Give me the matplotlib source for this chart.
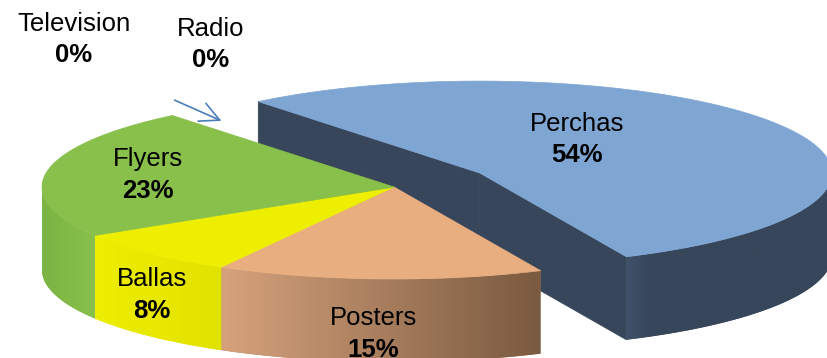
import numpy as np
import matplotlib
matplotlib.use("Agg")
import matplotlib.pyplot as plt
from matplotlib.patches import Polygon

# ---- data ----
categories = ["Perchas", "Posters", "Ballas", "Flyers", "Television", "Radio"]
values = [54, 15, 8, 23, 0, 0]
pct_labels = ["54%", "15%", "8%", "23%", "0%", "0%"]

# ---- styling / layout ----
top_colors = {"Perchas": "#7fa6d3", "Posters": "#e8ae80", "Ballas": "#eeee00",
              "Flyers": "#88c04b"}
wall_grad = {"Perchas": [(64, 83, 107), (55, 70, 90)],
             "Posters": [(214, 162, 124), (122, 90, 64)],
             "Ballas": [(238, 238, 0), (226, 226, 0)],
             "Flyers": [(124, 180, 68), (136, 192, 75)]}
radial_wall = "#37465a"
label_pos = {"Perchas": (577, 124, 155), "Posters": (373, 318, 350),
             "Ballas": (152, 279, 311), "Flyers": (148, 159, 191),
             "Television": (74, 24, 55), "Radio": (211, 29, 60)}

W, H = 827, 358
cx, cy = 394, 187
rx, ry = 352, 92
depth = 83
start = 321.0
explode = {"Perchas": 0.287}

plt.rcParams['font.family'] = ['Liberation Sans', 'DejaVu Sans']
fig = plt.figure(figsize=(W / 100, H / 100), dpi=100)
ax = fig.add_axes([0, 0, 1, 1])
ax.set_xlim(0, W)
ax.set_ylim(H, 0)
ax.axis("off")


def pt(c, th):
    t = np.radians(th)
    return c[0] + rx * np.sin(t), c[1] - ry * np.cos(t)


def draw_outer_wall(c, a0, a1, name, z):
    ths = np.linspace(a0, a1, 600)
    vis = [(t % 360 >= 90) and (t % 360 <= 270) for t in ths]
    ths = ths[vis]
    if len(ths) < 2:
        return
    top = [pt(c, t) for t in ths]
    bot = [(p[0], p[1] + depth) for p in top][::-1]
    poly_pts = top + bot
    xs = [p[0] for p in top]
    ys = [p[1] for p in poly_pts]
    xmin, xmax = min(xs), max(xs)
    ymin, ymax = min(ys), max(ys)
    c0 = np.array(wall_grad[name][0]) / 255
    c1 = np.array(wall_grad[name][1]) / 255
    n = 256
    f = np.linspace(0, 1, n)
    if name == "Perchas":
        # light near the left corner, quickly darkening to the right
        f = np.minimum(1.0, f / 0.12)
        img = (c0[None, :] + (c1 - c0)[None, :] * f[:, None])
    else:
        img = (c0[None, :] + (c1 - c0)[None, :] * f[:, None])
    img = img[None, :, :]
    poly = Polygon(poly_pts, closed=True, facecolor=tuple((c0 + c1) / 2),
                   edgecolor="none", zorder=z)
    ax.add_patch(poly)
    im = ax.imshow(img, extent=(xmin, xmax, ymax, ymin), aspect="auto",
                   interpolation="bilinear", zorder=z + 0.1)
    im.set_clip_path(poly)


def draw_radial_wall(c, th, z):
    e = pt(c, th)
    poly = [c, e, (e[0], e[1] + depth), (c[0], c[1] + depth)]
    ax.add_patch(Polygon(poly, closed=True, facecolor=radial_wall,
                         edgecolor=radial_wall, lw=0.6, zorder=z))


def draw_top(c, a0, a1, name, z):
    ths = np.linspace(a0, a1, 300)
    poly = [c] + [pt(c, t) for t in ths]
    ax.add_patch(Polygon(poly, closed=True, facecolor=top_colors[name],
                         edgecolor=top_colors[name], lw=0.5, zorder=z))


# angle spans
spans = []
acc = start
for name, v in zip(categories, values):
    spans.append((name, acc, acc + v * 3.6))
    acc += v * 3.6

# exploded slice first (behind)
for name, a0, a1 in spans:
    if name in explode and a1 > a0:
        mid = np.radians((a0 + a1) / 2)
        e = explode[name]
        c = (cx + rx * e * np.sin(mid), cy - ry * e * np.cos(mid))
        draw_radial_wall(c, a0, 1)
        draw_radial_wall(c, a1, 1)
        draw_outer_wall(c, a0, a1, name, 1)
        draw_top(c, a0, a1, name, 2)

# main pie
for name, a0, a1 in spans:
    if name not in explode and a1 > a0:
        draw_outer_wall((cx, cy), a0, a1, name, 3)
for name, a0, a1 in spans:
    if name not in explode and a1 > a0:
        draw_top((cx, cy), a0, a1, name, 4)

ax.set_xlim(0, W)
ax.set_ylim(H, 0)

# labels
for name, pl in zip(categories, pct_labels):
    x, y1, y2 = label_pos[name]
    ax.text(x, y1, name, ha="center", va="center", fontsize=18.5, color="black", zorder=10)
    ax.text(x, y2, pl, ha="center", va="center", fontsize=18.5, fontweight="bold",
            color="black", zorder=10)

# leader arrow for the zero slice
ax.annotate("", xy=(224, 122), xytext=(172, 99),
            arrowprops=dict(arrowstyle="->,head_length=0.7,head_width=0.35",
                            color="#4a7ebb", lw=1.2, mutation_scale=20),
            zorder=10)

fig.savefig("out.png", dpi=100)
